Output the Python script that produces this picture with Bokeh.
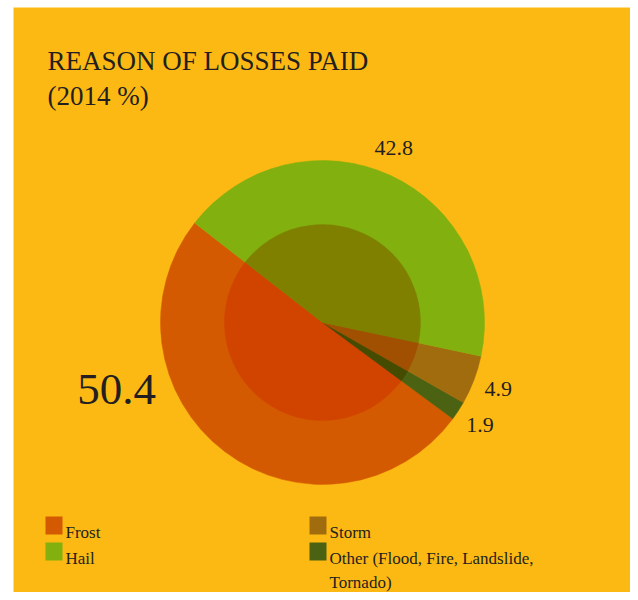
import math
from bokeh.plotting import figure
from bokeh.models import Range1d, BoxAnnotation, Label, ColumnDataSource
from bokeh.core.properties import value
from bokeh.embed import file_html
from bokeh.resources import INLINE

# ---- data ----
categories = ["Frost", "Hail", "Storm", "Other"]
legend_labels = ["Frost", "Hail", "Storm", "Other (Flood, Fire, Landslide,\nTornado)"]
shares = [50.4, 42.8, 4.9, 1.9]
value_labels = ["50.4", "42.8", "4.9", "1.9"]
outer_colors = ["#D45A02", "#82B00F", "#A06C0E", "#4A6212"]
inner_colors = ["#D14400", "#7F8000", "#A05000", "#454B00"]
title_lines = ["REASON OF LOSSES PAID", "(2014 %)"]

BG = "#FDB913"
TXT = "#231F20"
FONT = "Liberation Serif"

W, H = 630, 592
p = figure(width=W, height=H, output_backend="svg", toolbar_location=None,
           x_range=Range1d(0, W), y_range=Range1d(0, H), min_border=0,
           x_axis_location=None, y_axis_location=None)
p.grid.visible = False
p.outline_line_color = None
p.background_fill_color = "white"
p.border_fill_color = "white"
p.add_layout(BoxAnnotation(left=13, right=633, bottom=-5, top=H - 7, fill_color=BG,
                           fill_alpha=1, line_alpha=0, level="underlay"))

# ---- pie ----
cx, cy = 322, 270
R_OUT, R_IN = 162, 98
start_deg = 142.1
order = [0, 3, 2, 1]  # anticlockwise drawing order
total = sum(shares)
starts, ends, oc, ic, mids, labs = [], [], [], [], [], []
a = math.radians(start_deg)
for i in order:
    span = 2 * math.pi * shares[i] / total
    starts.append(a)
    ends.append(a + span)
    mids.append(a + span / 2)
    oc.append(outer_colors[i])
    ic.append(inner_colors[i])
    labs.append(i)
    a += span

src = ColumnDataSource(dict(s=starts, e=ends, oc=oc, ic=ic))
p.wedge(x=cx, y=cy, radius=R_OUT, start_angle="s", end_angle="e",
        fill_color="oc", line_color="oc", line_width=0.5, source=src)
p.wedge(x=cx, y=cy, radius=R_IN, start_angle="s", end_angle="e",
        fill_color="ic", line_color="ic", line_width=0.5, source=src)

# value labels for the smaller slices, placed along slice mid-angle
LR = 188
lx, ly, lt = [], [], []
for m, i in zip(mids, labs):
    if i == 0:
        continue
    lx.append(cx + LR * math.cos(m) - (8 if i == 1 else 0))
    ly.append(cy + LR * math.sin(m) + (4 if i == 1 else 0))
    lt.append(value_labels[i])
p.text(x=lx, y=ly, text=lt, text_align="center", text_baseline="middle",
       text_font=value(FONT), text_font_size="22px", text_color=TXT)

# large label for the biggest slice
p.add_layout(Label(x=116, y=203, text=value_labels[0], text_align="center",
                   text_baseline="middle", text_font=FONT, text_font_size="45px",
                   text_color=TXT))

# ---- title ----
p.text(x=[47, 47], y=[532, 497], text=title_lines, text_align="left",
       text_baseline="alphabetic", text_font=value(FONT), text_font_size="27px",
       text_color=TXT)

# ---- legend ----
sq_left = [45, 45, 309, 309]
sq_top = [516, 542, 516, 542]
p.rect(x=[l + 8.5 for l in sq_left], y=[H - t - 9 for t in sq_top], width=17, height=18,
       fill_color=outer_colors, line_color=None)
tx0 = [65, 65, 329, 329]
base0 = [532, 558, 532, 558]
LINE_GAP = 24
tx, ty, tt = [], [], []
for x0, b0, lab in zip(tx0, base0, legend_labels):
    for k, line in enumerate(lab.split("\n")):
        tx.append(x0)
        ty.append(H - (b0 + k * LINE_GAP))
        tt.append(line)
p.text(x=tx, y=ty, text=tt, text_align="left", text_baseline="alphabetic",
       text_font=value(FONT), text_font_size="17px", text_color=TXT)

open("out.html", "w").write(file_html(p, INLINE))
